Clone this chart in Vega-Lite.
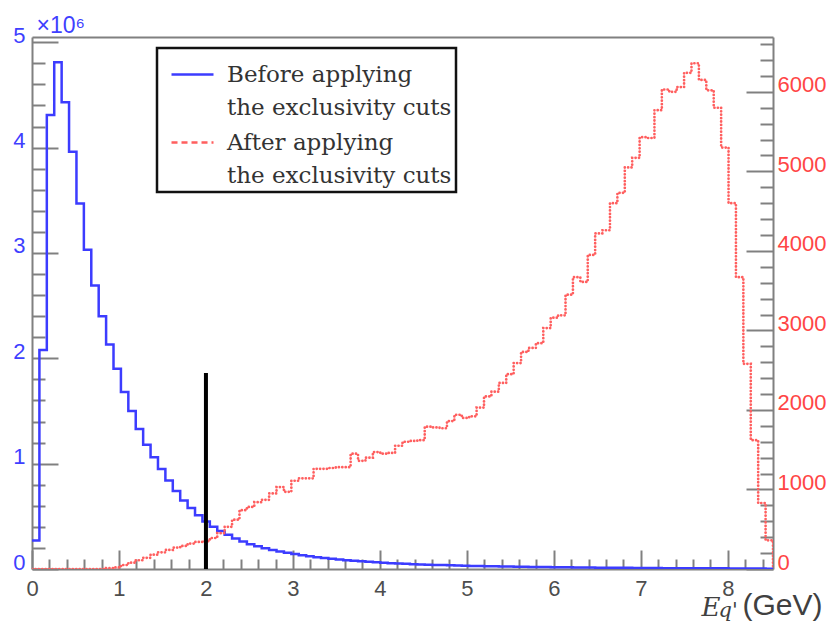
{
  "$schema": "https://vega.github.io/schema/vega-lite/v6.json",
  "width": 741,
  "height": 532,
  "autosize": {"type": "none"},
  "padding": {"left": 32, "top": 37, "right": 59, "bottom": 57},
  "background": "white",
  "config": {
    "view": {"stroke": null},
    "font": "Liberation Sans",
    "axis": {
      "grid": false,
      "labelFlush": false,
      "labelOverlap": false,
      "domainColor": "#808080",
      "domainWidth": 2,
      "tickColor": "#808080",
      "tickWidth": 2,
      "labelFont": "Liberation Sans",
      "titleFont": "Liberation Sans",
      "titleFontWeight": "normal"
    }
  },
  "datasets": {
    "bins": [
      {"i": 0, "x": 0, "before": 270000, "after": 0},
      {"i": 1, "x": 0.0852, "before": 2080000, "after": 0},
      {"i": 2, "x": 0.1704, "before": 4310000, "after": 0},
      {"i": 3, "x": 0.2556, "before": 4810000, "after": 0},
      {"i": 4, "x": 0.3408, "before": 4430000, "after": 0},
      {"i": 5, "x": 0.426, "before": 3960000, "after": 0},
      {"i": 6, "x": 0.5112, "before": 3470000, "after": 0},
      {"i": 7, "x": 0.5964, "before": 3030000, "after": 0},
      {"i": 8, "x": 0.6816, "before": 2690000, "after": 0},
      {"i": 9, "x": 0.7668, "before": 2400000, "after": 0},
      {"i": 10, "x": 0.852, "before": 2130000, "after": 10},
      {"i": 11, "x": 0.9372, "before": 1900000, "after": 20},
      {"i": 12, "x": 1.0224, "before": 1680000, "after": 50},
      {"i": 13, "x": 1.1076, "before": 1500000, "after": 80},
      {"i": 14, "x": 1.1928, "before": 1330000, "after": 110},
      {"i": 15, "x": 1.278, "before": 1180000, "after": 140},
      {"i": 16, "x": 1.3632, "before": 1060000, "after": 180},
      {"i": 17, "x": 1.4484, "before": 950000, "after": 210},
      {"i": 18, "x": 1.5336, "before": 840000, "after": 240},
      {"i": 19, "x": 1.6188, "before": 740000, "after": 270},
      {"i": 20, "x": 1.704, "before": 650000, "after": 290},
      {"i": 21, "x": 1.7892, "before": 580000, "after": 320},
      {"i": 22, "x": 1.8744, "before": 510000, "after": 340},
      {"i": 23, "x": 1.9596, "before": 450000, "after": 350},
      {"i": 24, "x": 2.0448, "before": 400000, "after": 390},
      {"i": 25, "x": 2.13, "before": 360000, "after": 450},
      {"i": 26, "x": 2.2152, "before": 325000, "after": 530},
      {"i": 27, "x": 2.3004, "before": 290000, "after": 620},
      {"i": 28, "x": 2.3856, "before": 260000, "after": 740},
      {"i": 29, "x": 2.4708, "before": 235000, "after": 780},
      {"i": 30, "x": 2.556, "before": 215000, "after": 840},
      {"i": 31, "x": 2.6412, "before": 197000, "after": 870},
      {"i": 32, "x": 2.7264, "before": 181000, "after": 950},
      {"i": 33, "x": 2.8116, "before": 167000, "after": 1030},
      {"i": 34, "x": 2.8968, "before": 154000, "after": 970},
      {"i": 35, "x": 2.982, "before": 142000, "after": 1110},
      {"i": 36, "x": 3.0672, "before": 131000, "after": 1140},
      {"i": 37, "x": 3.1524, "before": 121000, "after": 1140},
      {"i": 38, "x": 3.2376, "before": 112000, "after": 1260},
      {"i": 39, "x": 3.3228, "before": 104000, "after": 1260},
      {"i": 40, "x": 3.408, "before": 97000, "after": 1270},
      {"i": 41, "x": 3.4932, "before": 90000, "after": 1280},
      {"i": 42, "x": 3.5784, "before": 84000, "after": 1280},
      {"i": 43, "x": 3.6636, "before": 78000, "after": 1450},
      {"i": 44, "x": 3.7488, "before": 73000, "after": 1360},
      {"i": 45, "x": 3.834, "before": 68000, "after": 1400},
      {"i": 46, "x": 3.9192, "before": 63000, "after": 1470},
      {"i": 47, "x": 4.0044, "before": 59000, "after": 1450},
      {"i": 48, "x": 4.0896, "before": 55000, "after": 1460},
      {"i": 49, "x": 4.1748, "before": 52000, "after": 1550},
      {"i": 50, "x": 4.26, "before": 49000, "after": 1600},
      {"i": 51, "x": 4.3452, "before": 46000, "after": 1610},
      {"i": 52, "x": 4.4304, "before": 43000, "after": 1620},
      {"i": 53, "x": 4.5156, "before": 41000, "after": 1790},
      {"i": 54, "x": 4.6008, "before": 39000, "after": 1780},
      {"i": 55, "x": 4.686, "before": 37000, "after": 1770},
      {"i": 56, "x": 4.7712, "before": 35000, "after": 1860},
      {"i": 57, "x": 4.8564, "before": 33000, "after": 1940},
      {"i": 58, "x": 4.9416, "before": 31000, "after": 1900},
      {"i": 59, "x": 5.0268, "before": 29000, "after": 1920},
      {"i": 60, "x": 5.112, "before": 28000, "after": 2030},
      {"i": 61, "x": 5.1972, "before": 26000, "after": 2170},
      {"i": 62, "x": 5.2824, "before": 25000, "after": 2230},
      {"i": 63, "x": 5.3676, "before": 24000, "after": 2340},
      {"i": 64, "x": 5.4528, "before": 23000, "after": 2450},
      {"i": 65, "x": 5.538, "before": 22000, "after": 2590},
      {"i": 66, "x": 5.6232, "before": 21000, "after": 2730},
      {"i": 67, "x": 5.7084, "before": 20000, "after": 2780},
      {"i": 68, "x": 5.7936, "before": 19000, "after": 2840},
      {"i": 69, "x": 5.8788, "before": 18000, "after": 3030},
      {"i": 70, "x": 5.964, "before": 17000, "after": 3160},
      {"i": 71, "x": 6.0492, "before": 16000, "after": 3190},
      {"i": 72, "x": 6.1344, "before": 16000, "after": 3450},
      {"i": 73, "x": 6.2196, "before": 15000, "after": 3670},
      {"i": 74, "x": 6.3048, "before": 14000, "after": 3610},
      {"i": 75, "x": 6.39, "before": 14000, "after": 3950},
      {"i": 76, "x": 6.4752, "before": 13000, "after": 4220},
      {"i": 77, "x": 6.5604, "before": 12000, "after": 4260},
      {"i": 78, "x": 6.6456, "before": 12000, "after": 4600},
      {"i": 79, "x": 6.7308, "before": 11000, "after": 4730},
      {"i": 80, "x": 6.816, "before": 11000, "after": 5050},
      {"i": 81, "x": 6.9012, "before": 10000, "after": 5170},
      {"i": 82, "x": 6.9864, "before": 10000, "after": 5430},
      {"i": 83, "x": 7.0716, "before": 9000, "after": 5420},
      {"i": 84, "x": 7.1568, "before": 9000, "after": 5770},
      {"i": 85, "x": 7.242, "before": 8000, "after": 6030},
      {"i": 86, "x": 7.3272, "before": 8000, "after": 6000},
      {"i": 87, "x": 7.4124, "before": 8000, "after": 6060},
      {"i": 88, "x": 7.4976, "before": 7000, "after": 6240},
      {"i": 89, "x": 7.5828, "before": 7000, "after": 6360},
      {"i": 90, "x": 7.668, "before": 7000, "after": 6150},
      {"i": 91, "x": 7.7532, "before": 6000, "after": 6020},
      {"i": 92, "x": 7.8384, "before": 6000, "after": 5800},
      {"i": 93, "x": 7.9236, "before": 6000, "after": 5300},
      {"i": 94, "x": 8.0088, "before": 5000, "after": 4600},
      {"i": 95, "x": 8.094, "before": 5000, "after": 3670},
      {"i": 96, "x": 8.1792, "before": 5000, "after": 2580},
      {"i": 97, "x": 8.2644, "before": 4000, "after": 1620},
      {"i": 98, "x": 8.3496, "before": 4000, "after": 830},
      {"i": 99, "x": 8.4348, "before": 3000, "after": 360},
      {"i": 100, "x": 8.52, "before": 3000, "after": 360},
      {"i": 101, "x": 8.52, "before": 0, "after": 0}
    ],
    "cut": [{"x": 2, "low": 0, "high": 1860000}]
  },
  "resolve": {"scale": {"x": "independent", "y": "independent"}},
  "layer": [
    {
      "data": {"name": "bins"},
      "mark": {"type": "line", "interpolate": "step-after", "strokeWidth": 2.5, "clip": true},
      "encoding": {
        "x": {
          "field": "x", "type": "quantitative",
          "scale": {"domain": [0, 8.52], "nice": false, "zero": false},
          "axis": {
            "orient": "bottom", "values": [0, 1, 2, 3, 4, 5, 6, 7, 8], "format": "d",
            "ticks": false, "labelFontSize": 22, "labelColor": "#4d4d4d", "labelPadding": 9,
            "title": "(GeV)", "titleFontSize": 30, "titleColor": "#404040",
            "titleX": 710, "titleY": 45, "titleAlign": "left", "titleBaseline": "alphabetic", "titleAngle": 0
          }
        },
        "y": {
          "field": "before", "type": "quantitative",
          "scale": {"domain": [0, 5050000], "nice": false},
          "axis": {
            "orient": "left", "values": [0, 1000000, 2000000, 3000000, 4000000, 5000000],
            "labelExpr": "format(datum.value / 1000000, 'd')",
            "ticks": false, "labelFontSize": 22, "labelColor": "#3f3fff", "labelPadding": 7,
            "labelBaseline": "alphabetic",
            "title": "×10⁶", "titleFontSize": 23, "titleColor": "#3f3fff", "titleAngle": 0,
            "titleX": 4, "titleY": -5, "titleAlign": "left", "titleBaseline": "alphabetic"
          }
        },
        "order": {"field": "i", "type": "quantitative"},
        "color": {
          "datum": "Before applying|the exclusivity cuts", "type": "nominal",
          "scale": {
            "domain": ["Before applying|the exclusivity cuts", "After applying|the exclusivity cuts"],
            "range": ["#3c3cff", "#ff5f5f"]
          },
          "legend": {
            "orient": "none", "legendX": 125, "legendY": 11, "title": null,
            "symbolType": "stroke", "symbolSize": 1764, "symbolStrokeWidth": 2.5,
            "symbolOffset": 9, "labelOffset": 12,
            "labelFont": "DejaVu Serif", "labelFontSize": 23, "labelColor": "#333333",
            "labelLimit": 0,
            "labelExpr": "split(datum.label, '|')",
            "padding": 4, "rowPadding": 0,
            "strokeColor": "#111111", "fillColor": "#ffffff",
            "encode": {
              "legend": {"update": {"strokeWidth": {"value": 2.5}}},
              "labels": {"update": {"lineHeight": {"value": 33}}},
              "symbols": {"update": {
                "strokeDash": {"signal": "indexof(datum.value, 'After') == 0 ? [6, 4] : [1, 0]"},
                "stroke": {"signal": "indexof(datum.value, 'After') == 0 ? '#ff5555' : '#3a6cf5'"}
              }}
            }
          }
        }
      }
    },
    {
      "data": {"name": "bins"},
      "mark": {"type": "line", "interpolate": "step-after", "strokeWidth": 2.7, "strokeDash": [0.1, 3.3], "strokeCap": "round", "clip": true},
      "encoding": {
        "x": {
          "field": "x", "type": "quantitative",
          "scale": {"domain": [0, 8.52], "nice": false, "zero": false},
          "axis": {"orient": "top", "labels": false, "ticks": false, "title": null}
        },
        "y": {
          "field": "after", "type": "quantitative",
          "scale": {"domain": [0, 6690], "nice": false},
          "axis": {
            "orient": "right", "values": [0, 1000, 2000, 3000, 4000, 5000, 6000], "format": "d",
            "ticks": false, "labelFontSize": 22, "labelColor": "#ff4545", "labelPadding": 4,
            "labelBaseline": "alphabetic", "title": null
          }
        },
        "order": {"field": "i", "type": "quantitative"},
        "color": {"datum": "After applying|the exclusivity cuts", "type": "nominal"}
      }
    },
    {
      "data": {"name": "cut"},
      "mark": {"type": "rule", "color": "#000000", "strokeWidth": 4},
      "encoding": {
        "x": {
          "field": "x", "type": "quantitative",
          "scale": {"domain": [0, 8.52], "nice": false, "zero": false},
          "axis": {
            "orient": "bottom", "values": [0, 1, 2, 3, 4, 5, 6, 7, 8],
            "labels": false, "domain": false, "tickSize": -19,
            "title": "E", "titleFont": "DejaVu Serif", "titleFontStyle": "italic", "titleFontSize": 26,
            "titleColor": "#404040", "titleX": 669, "titleY": 46, "titleAlign": "left",
            "titleBaseline": "alphabetic", "titleAngle": 0
          }
        },
        "y": {
          "field": "low", "type": "quantitative",
          "scale": {"domain": [0, 5050000], "nice": false},
          "axis": {
            "orient": "left", "values": [0, 1000000, 2000000, 3000000, 4000000, 5000000],
            "labels": false, "domain": false, "tickSize": -26, "title": null
          }
        },
        "y2": {"field": "high"}
      }
    },
    {
      "data": {"name": "bins"},
      "mark": {"type": "point", "opacity": 0},
      "encoding": {
        "x": {
          "field": "x", "type": "quantitative",
          "scale": {"domain": [0, 8.52], "nice": false, "zero": false},
          "axis": {
            "orient": "bottom",
            "values": [0.2, 0.4, 0.6, 0.8, 1.2, 1.4, 1.6, 1.8, 2.2, 2.4, 2.6, 2.8, 3.2, 3.4, 3.6, 3.8, 4.2, 4.4, 4.6, 4.8, 5.2, 5.4, 5.6, 5.8, 6.2, 6.4, 6.6, 6.8, 7.2, 7.4, 7.6, 7.8, 8.2, 8.4],
            "labels": false, "domain": false, "tickSize": -10,
            "title": "q'", "titleFont": "DejaVu Serif", "titleFontStyle": "italic", "titleFontSize": 21,
            "titleColor": "#404040", "titleX": 686, "titleY": 47, "titleAlign": "left",
            "titleBaseline": "alphabetic", "titleAngle": 0
          }
        },
        "y": {
          "field": "before", "type": "quantitative",
          "scale": {"domain": [0, 5050000], "nice": false},
          "axis": {
            "orient": "left",
            "values": [200000, 400000, 600000, 800000, 1200000, 1400000, 1600000, 1800000, 2200000, 2400000, 2600000, 2800000, 3200000, 3400000, 3600000, 3800000, 4200000, 4400000, 4600000, 4800000],
            "labels": false, "domain": false, "tickSize": -13, "title": null
          }
        }
      }
    },
    {
      "data": {"name": "bins"},
      "mark": {"type": "point", "opacity": 0},
      "encoding": {
        "y": {
          "field": "after", "type": "quantitative",
          "scale": {"domain": [0, 6690], "nice": false},
          "axis": {
            "orient": "right", "values": [0, 1000, 2000, 3000, 4000, 5000, 6000],
            "labels": false, "domain": false, "tickSize": -27, "title": null
          }
        }
      }
    },
    {
      "data": {"name": "bins"},
      "mark": {"type": "point", "opacity": 0},
      "encoding": {
        "y": {
          "field": "after", "type": "quantitative",
          "scale": {"domain": [0, 6690], "nice": false},
          "axis": {
            "orient": "right",
            "values": [200, 400, 600, 800, 1200, 1400, 1600, 1800, 2200, 2400, 2600, 2800, 3200, 3400, 3600, 3800, 4200, 4400, 4600, 4800, 5200, 5400, 5600, 5800, 6200, 6400, 6600],
            "labels": false, "domain": false, "tickSize": -13, "title": null
          }
        }
      }
    }
  ]
}
